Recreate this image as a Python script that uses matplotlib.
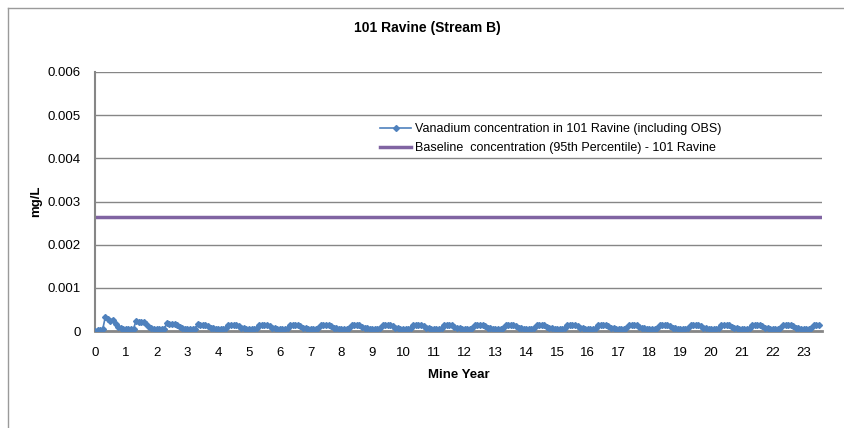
import numpy as np
import matplotlib
matplotlib.use('Agg')
import matplotlib.pyplot as plt
from matplotlib.lines import Line2D

plt.rcParams['font.family'] = ['Liberation Sans', 'DejaVu Sans']

# Vanadium concentration (mg/L), one row per mine year, monthly samples
vanadium_by_year = [
    [0.0, 0.00003, 0.00003, 0.00004, 0.00032, 0.00027, 0.00024, 0.00026, 0.00017, 0.00010, 0.00006, 0.00005],
    [0.00005, 0.00005, 0.00005, 0.00005, 0.00024, 0.00021, 0.00020, 0.00021, 0.00016, 0.00010, 0.00006, 0.00005],
    [0.00005, 0.00005, 0.00005, 0.00005, 0.00019, 0.00017, 0.00017, 0.00016, 0.00013, 0.00009, 0.00006, 0.00005],
    [0.00005, 0.00005, 0.00005, 0.00005, 0.00016, 0.00015, 0.00015, 0.00014, 0.00011, 0.00008, 0.00006, 0.00005],
    [0.00005, 0.00005, 0.00005, 0.00006, 0.00015, 0.00014, 0.00014, 0.00013, 0.00011, 0.00008, 0.00006, 0.00005],
    [0.00005, 0.00005, 0.00005, 0.00006, 0.00015, 0.00014, 0.00014, 0.00013, 0.00011, 0.00008, 0.00006, 0.00005],
    [0.00005, 0.00005, 0.00005, 0.00006, 0.00014, 0.00014, 0.00014, 0.00013, 0.00011, 0.00008, 0.00006, 0.00005],
    [0.00005, 0.00005, 0.00005, 0.00006, 0.00014, 0.00014, 0.00013, 0.00013, 0.00011, 0.00008, 0.00006, 0.00005],
    [0.00005, 0.00005, 0.00005, 0.00006, 0.00014, 0.00014, 0.00014, 0.00013, 0.00010, 0.00008, 0.00006, 0.00005],
    [0.00005, 0.00005, 0.00005, 0.00006, 0.00014, 0.00014, 0.00013, 0.00013, 0.00011, 0.00008, 0.00006, 0.00005],
    [0.00005, 0.00005, 0.00005, 0.00006, 0.00014, 0.00014, 0.00014, 0.00013, 0.00011, 0.00008, 0.00006, 0.00005],
    [0.00005, 0.00005, 0.00005, 0.00006, 0.00014, 0.00014, 0.00013, 0.00013, 0.00010, 0.00008, 0.00006, 0.00005],
    [0.00005, 0.00005, 0.00005, 0.00006, 0.00014, 0.00014, 0.00014, 0.00013, 0.00011, 0.00008, 0.00006, 0.00005],
    [0.00005, 0.00005, 0.00005, 0.00006, 0.00014, 0.00014, 0.00013, 0.00013, 0.00011, 0.00008, 0.00006, 0.00005],
    [0.00005, 0.00005, 0.00005, 0.00006, 0.00014, 0.00014, 0.00014, 0.00013, 0.00010, 0.00008, 0.00006, 0.00005],
    [0.00005, 0.00005, 0.00005, 0.00006, 0.00014, 0.00014, 0.00013, 0.00013, 0.00011, 0.00008, 0.00006, 0.00005],
    [0.00005, 0.00005, 0.00005, 0.00006, 0.00014, 0.00014, 0.00014, 0.00013, 0.00011, 0.00008, 0.00006, 0.00005],
    [0.00005, 0.00005, 0.00005, 0.00006, 0.00014, 0.00014, 0.00013, 0.00013, 0.00010, 0.00008, 0.00006, 0.00005],
    [0.00005, 0.00005, 0.00005, 0.00006, 0.00014, 0.00014, 0.00014, 0.00013, 0.00011, 0.00008, 0.00006, 0.00005],
    [0.00005, 0.00005, 0.00005, 0.00006, 0.00014, 0.00014, 0.00013, 0.00013, 0.00011, 0.00008, 0.00006, 0.00005],
    [0.00005, 0.00005, 0.00005, 0.00006, 0.00014, 0.00014, 0.00014, 0.00013, 0.00010, 0.00008, 0.00006, 0.00005],
    [0.00005, 0.00005, 0.00005, 0.00006, 0.00014, 0.00014, 0.00013, 0.00013, 0.00011, 0.00008, 0.00006, 0.00005],
    [0.00005, 0.00005, 0.00005, 0.00006, 0.00014, 0.00014, 0.00014, 0.00013, 0.00011, 0.00008, 0.00006, 0.00005],
    [0.00005, 0.00005, 0.00005, 0.00006, 0.00014, 0.00014, 0.00013],
]
baseline_95th = 0.00265

x_ticks = list(range(0, 24))
y_ticks = [0, 0.001, 0.002, 0.003, 0.004, 0.005, 0.006]
y_tick_labels = ['0', '0.001', '0.002', '0.003', '0.004', '0.005', '0.006']

vanadium = np.concatenate([np.array(r) for r in vanadium_by_year])
mine_year = np.arange(len(vanadium)) / 12.0

fig = plt.figure(figsize=(8.45, 4.28), dpi=100)
ax = fig.add_axes([95 / 845, 1 - 331 / 428, (822 - 95) / 845, (331 - 72) / 428])

# outer chart border (only top and left visible)
fig.add_artist(Line2D([8 / 845, 8 / 845], [0, 1 - 8 / 428], color='#9a9a9a', lw=1))
fig.add_artist(Line2D([8 / 845, 1], [1 - 8 / 428, 1 - 8 / 428], color='#9a9a9a', lw=1))

ax.plot(mine_year, vanadium, color='#4F81BD', lw=1.2, marker='D', markersize=3,
        label='Vanadium concentration in 101 Ravine (including OBS)', zorder=3)
ax.axhline(baseline_95th, color='#8064A2', lw=2.5,
           label='Baseline  concentration (95th Percentile) - 101 Ravine', zorder=2)

ax.set_xlim(0, 23.6)
ax.set_ylim(0, 0.006)
ax.set_xticks(x_ticks)
ax.set_yticks(y_ticks)
ax.set_yticklabels(y_tick_labels)
ax.tick_params(length=0, labelsize=9.5, colors='black')
ax.tick_params(axis='y', pad=10)
ax.tick_params(axis='x', pad=11.5)
ax.grid(axis='y', color='#868686', lw=1)
ax.set_axisbelow(True)
for s in ['top', 'right']:
    ax.spines[s].set_visible(False)
ax.spines['left'].set_color('#868686')
ax.spines['bottom'].set_color('#868686')
ax.spines['bottom'].set_linewidth(2)
ax.spines['left'].set_linewidth(1.5)

ax.set_xlabel('Mine Year', fontsize=9.5, fontweight='bold', labelpad=7)
ax.set_ylabel('mg/L', fontsize=9.5, fontweight='bold', labelpad=4)

fig.text(0.506, 1 - 28 / 428, '101 Ravine (Stream B)', ha='center', va='center',
         fontsize=10, fontweight='bold')

ax.legend(loc='upper left', bbox_to_anchor=(374 / 845, 1 - 117 / 428),
          bbox_transform=fig.transFigure, frameon=False, fontsize=9,
          handlelength=2.5, handletextpad=0.3, labelspacing=0.55, borderpad=0)

fig.savefig('out.png', dpi=100)
